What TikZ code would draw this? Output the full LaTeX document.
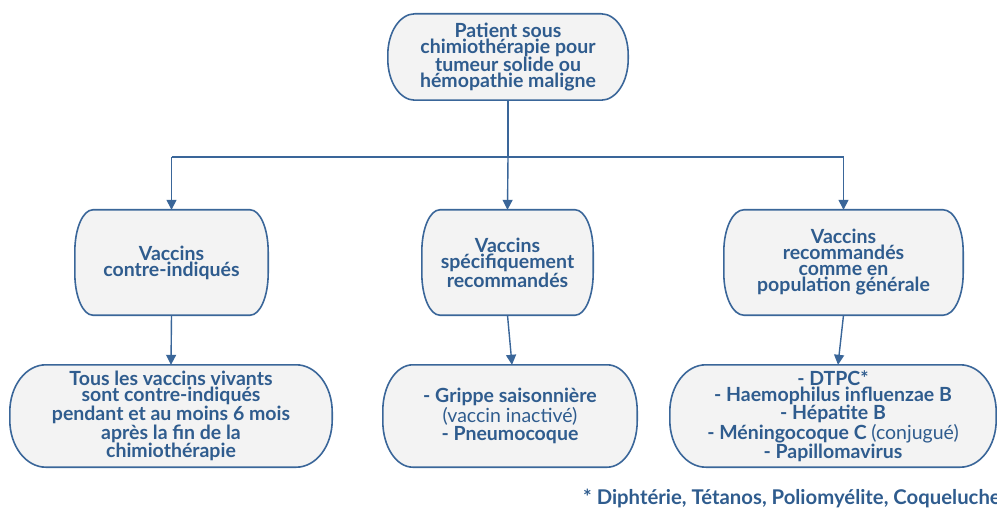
\documentclass[tikz,border=0pt]{standalone}
\usepackage{fontspec}
\setmainfont{Lato}
\usetikzlibrary{arrows.meta,backgrounds}

\definecolor{inkblue}{HTML}{2F5C8E}
\definecolor{edgeblue}{HTML}{3A6699}
\definecolor{boxgrey}{HTML}{F3F3F3}

\tikzset{
    box/.style={text=inkblue, font=\bfseries\fontsize{19.5}{16}\selectfont, align=center, inner sep=0pt},
    outline/.style={draw=edgeblue, line width=1.6pt, fill=boxgrey},
    link/.style={draw=edgeblue, line width=1.4pt},
    arr/.style={link, -{Triangle[length=10pt,width=10pt]}},
}

% box outline with elliptic corners: node, x radius, y radius
\newcommand{\bubble}[3]{%
    \path[outline] ([xshift=#2pt]#1.north west) -- ([xshift=-#2pt]#1.north east)
        arc[start angle=90, end angle=0, x radius=#2pt, y radius=#3pt]
        -- ([yshift=#3pt]#1.south east)
        arc[start angle=0, end angle=-90, x radius=#2pt, y radius=#3pt]
        -- ([xshift=#2pt]#1.south west)
        arc[start angle=270, end angle=180, x radius=#2pt, y radius=#3pt]
        -- ([yshift=-#3pt]#1.north west)
        arc[start angle=180, end angle=90, x radius=#2pt, y radius=#3pt]
        -- cycle;}

\begin{document}
\begin{tikzpicture}[x=1pt,y=1pt]
    \useasboundingbox (0,0) rectangle (997,-508);

    \node[box, minimum width=240pt, minimum height=86pt] (pat) at (508,-57)
        {Patient sous\\chimiothérapie pour\\tumeur solide ou\\hémopathie maligne};

    \node[box, minimum width=193pt, minimum height=105pt] (ci) at (171.5,-262.5)
        {Vaccins\\contre-indiqués};
    \node[box, minimum width=171pt, minimum height=105pt] (spe) at (507.5,-262.5)
        {Vaccins\\spécifiquement\\recommandés};
    \node[box, minimum width=239pt, minimum height=105pt] (gen) at (843.5,-262.5)
        {Vaccins\\recommandés\\comme en\\population générale};

    \node[box, minimum width=322pt, minimum height=102pt] (viv) at (171,-416)
        {Tous les vaccins vivants\\sont contre-indiqués\\pendant et au moins 6 mois\\après la fin de la\\chimiothérapie};
    \node[box, minimum width=254pt, minimum height=102pt] (gri) at (510,-416)
        {- Grippe saisonnière\\{\mdseries(vaccin inactivé)}\\- Pneumocoque};
    \node[box, minimum width=326pt, minimum height=102pt] (dtp) at (833,-416)
        {- DTPC*\\- Haemophilus influenzae B\\- Hépatite B\\- Méningocoque C {\mdseries(conjugué)}\\- Papillomavirus};

    \node[box, anchor=west, font=\bfseries\fontsize{20.3}{16}\selectfont] (note) at (583,-499)
        {* Diphtérie, Tétanos, Poliomyélite, Coqueluche};

    \begin{scope}[on background layer]
        \foreach \n/\rx/\ry in {pat/27/41, ci/18/42, spe/18/42, gen/20/42, viv/36/47, gri/30/46, dtp/36/47}
            \bubble{\n}{\rx}{\ry};
    \end{scope}

    % branches
    \coordinate (split) at (pat.south |- 0,-157);
    \draw[link] (pat.south) -- (split);
    \draw[link] (ci.north |- split) -- (gen.north |- split);
    \draw[arr] (ci.north |- split) -- (ci.north);
    \draw[arr] (split) -- (spe.north);
    \draw[arr] (gen.north |- split) -- (gen.north);

    \draw[arr] (ci.south) -- (viv.north);
    \draw[arr] (spe.south) -- ([xshift=2pt]gri.north);
    \draw[arr] (gen.south) -- ([xshift=5pt]dtp.north);
\end{tikzpicture}
\end{document}
